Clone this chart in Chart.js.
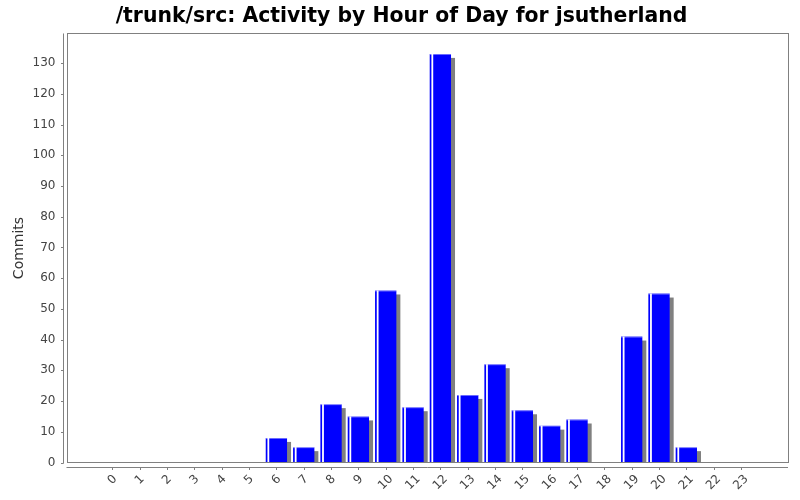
<!DOCTYPE html>
<html>
<head>
<meta charset="utf-8">
<script src="https://cdn.jsdelivr.net/npm/chart.js@4.4.0/dist/chart.umd.min.js"></script>
<style>
  body { margin: 0; background: #fff; }
</style>
</head>
<body>
<canvas id="hourChart" width="800" height="500"></canvas>
<script>
// hour of day -> number of commits
const hours = [0, 1, 2, 3, 4, 5, 6, 7, 8, 9, 10, 11, 12, 13, 14, 15, 16, 17, 18, 19, 20, 21, 22, 23];
const commits = [0, 0, 0, 0, 0, 0, 8, 5, 19, 15, 56, 18, 133, 22, 32, 17, 12, 14, 0, 41, 55, 5, 0, 0];
const yTicks = [0, 10, 20, 30, 40, 50, 60, 70, 80, 90, 100, 110, 120, 130];

const chartTitle = '/trunk/src: Activity by Hour of Day for jsutherland';
const axisGray = '#808080';
const labelGray = '#444444';

// jfreechart look: shadow, highlight, offset axes, rotated labels
const jfreeLook = {
    id: 'jfreeLook',
    beforeDatasetsDraw(chart) {
        const ctx = chart.ctx;
        const area = chart.chartArea;
        const bars = chart.getDatasetMeta(0).data;
        ctx.save();
        ctx.beginPath();
        ctx.rect(area.left, area.top, area.right - area.left, area.bottom - area.top);
        ctx.clip();
        ctx.fillStyle = axisGray;
        bars.forEach(bar => {
            if (bar.base - bar.y < 1) return;
            const left = bar.x - bar.width / 2;
            ctx.fillRect(left + 4, bar.y + 4, bar.width, bar.base - bar.y - 4);
        });
        ctx.restore();
    },
    afterDatasetsDraw(chart) {
        const ctx = chart.ctx;
        const bars = chart.getDatasetMeta(0).data;
        ctx.save();
        bars.forEach(bar => {
            if (bar.base - bar.y < 1) return;
            const left = bar.x - bar.width / 2;
            ctx.fillStyle = '#ffffff';
            ctx.fillRect(left + 1.7, bar.y, 1.8, bar.base - bar.y);
            ctx.fillStyle = 'rgba(255,255,255,0.45)';
            ctx.fillRect(left, bar.y, bar.width, 1);
        });
        ctx.restore();
    },
    afterDraw(chart) {
        const ctx = chart.ctx;
        const area = chart.chartArea;
        const xs = chart.scales.x;
        const ys = chart.scales.y;
        ctx.save();
        ctx.strokeStyle = axisGray;
        ctx.lineWidth = 1;

        // plot border
        ctx.strokeRect(Math.round(area.left) + 0.5, Math.round(area.top) + 0.5,
            Math.round(area.right - area.left) - 1, Math.round(area.bottom - area.top));

        // y axis line and ticks (offset from plot)
        const yAxisX = Math.round(area.left) - 3.5;
        ctx.beginPath();
        ctx.moveTo(yAxisX, area.top);
        ctx.lineTo(yAxisX, area.bottom + 1);
        yTicks.forEach(v => {
            const py = Math.round(ys.getPixelForValue(v)) + 0.5;
            ctx.moveTo(yAxisX - 2.5, py);
            ctx.lineTo(yAxisX, py);
        });
        ctx.stroke();

        // x axis line and ticks
        const xAxisY = Math.round(area.bottom) + 4.5;
        ctx.beginPath();
        ctx.moveTo(area.left, xAxisY);
        ctx.lineTo(area.right, xAxisY);
        hours.forEach(h => {
            const px = Math.round(xs.getPixelForValue(h)) + 0.5;
            ctx.moveTo(px, xAxisY);
            ctx.lineTo(px, xAxisY + 2.5);
        });
        ctx.stroke();

        // rotated hour labels, centred under each tick
        ctx.font = '12px "DejaVu Sans"';
        ctx.fillStyle = labelGray;
        ctx.textAlign = 'center';
        ctx.textBaseline = 'middle';
        hours.forEach(h => {
            const text = String(h);
            const w = ctx.measureText(text).width;
            const px = xs.getPixelForValue(h);
            const py = xAxisY + 6 + (w / 2 + 5) * Math.SQRT1_2;
            ctx.save();
            ctx.translate(px, py);
            ctx.rotate(-Math.PI / 4);
            ctx.fillText(text, 0, 0);
            ctx.restore();
        });
        ctx.restore();
    }
};

const ctx = document.getElementById('hourChart').getContext('2d');
const hourChart = new Chart(ctx, {
    type: 'bar',
    data: {
        datasets: [{
            data: hours.map((h, i) => ({ x: h, y: commits[i] })),
            backgroundColor: '#0000ff',
            borderWidth: 0,
            barPercentage: 0.78,
            categoryPercentage: 1
        }]
    },
    options: {
        responsive: false,
        animation: false,
        layout: {
            padding: { left: 15, right: 12, top: 0, bottom: 0 }
        },
        scales: {
            x: {
                type: 'linear',
                offset: false,
                min: -1.68,
                max: 24.72,
                grid: { display: false },
                border: { display: false },
                ticks: { display: false },
                afterFit(scale) { scale.height = 37.5; }
            },
            y: {
                min: 0,
                max: 139.65,
                grid: { display: false, drawTicks: false },
                border: { display: false },
                ticks: {
                    stepSize: 10,
                    includeBounds: false,
                    padding: 11,
                    color: labelGray,
                    font: { family: 'DejaVu Sans', size: 12 }
                },
                title: {
                    display: true,
                    text: 'Commits',
                    color: '#333333',
                    padding: { top: -4, bottom: 0 },
                    font: { family: 'DejaVu Sans', size: 14 }
                },
                afterFit(scale) { scale.width = 51.5; }
            }
        },
        plugins: {
            legend: { display: false },
            tooltip: { enabled: false },
            title: {
                display: true,
                text: chartTitle,
                color: '#000000',
                padding: { top: 4, bottom: 5 },
                font: { family: 'DejaVu Sans', size: 20.4, weight: 'bold' }
            }
        }
    },
    plugins: [jfreeLook]
});
</script>
</body>
</html>
